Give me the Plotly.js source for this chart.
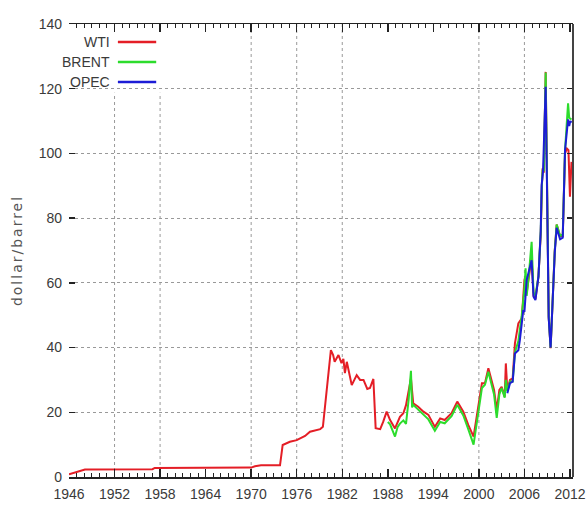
<!DOCTYPE html>
<html>
<head>
<meta charset="utf-8">
<script src="https://cdn.plot.ly/plotly-3.0.1.min.js"></script>
<style>
  html, body { margin: 0; padding: 0; background: #fff; }
  #chart { width: 588px; height: 507px; }
  .ytitle { letter-spacing: 2px; }
</style>
</head>
<body>
<div id="chart"></div>
<script>
// ---- data ----
const wtiYears = [1946.0, 1946.6, 1947.3, 1948.1, 1957.0, 1957.3, 1970.0, 1970.5, 1971.3, 1973.8,
  1974.15, 1975.1, 1976.0, 1977.1, 1977.75, 1979.1, 1979.45, 1980.5, 1980.8, 1981.0, 1981.5,
  1981.9, 1982.15, 1982.35, 1982.6, 1983.25, 1983.9, 1984.35, 1984.8, 1985.3, 1985.65, 1986.1,
  1986.4, 1987.0, 1987.4, 1987.85, 1988.3, 1988.95, 1989.6, 1990.05, 1990.4, 1991.05, 1991.35,
  1992.0, 1992.7, 1993.35, 1994.2, 1994.9, 1995.5, 1996.4, 1997.15, 1997.95, 1998.6, 1999.3,
  2000.4, 2000.8, 2001.25, 2001.7, 2002.0, 2002.35, 2002.7, 2003.0, 2003.4, 2003.55, 2003.75,
  2004.1, 2004.45, 2004.75, 2005.2, 2005.65, 2006.0, 2006.15, 2006.3, 2006.6, 2006.95, 2007.2,
  2007.45, 2007.85, 2008.15, 2008.3, 2008.4, 2008.55, 2008.8, 2009.2, 2009.45, 2010.0, 2010.25,
  2010.7, 2011.05, 2011.35, 2011.6, 2011.8, 2011.9, 2012.0, 2012.2];
const wtiPrice = [0.8, 1.2, 1.8, 2.3, 2.4, 2.8, 2.9, 3.3, 3.6, 3.6,
  9.9, 10.9, 11.4, 12.7, 14.0, 14.8, 15.5, 39.2, 37.7, 35.6, 37.7,
  35.2, 36.5, 32.1, 35.6, 28.4, 31.5, 30.0, 30.0, 27.2, 27.5, 30.3,
  15.1, 14.8, 17.1, 20.2, 17.6, 15.0, 18.6, 19.7, 22.2, 30.5, 22.8,
  21.7, 20.2, 19.2, 15.5, 18.1, 17.6, 19.7, 23.3, 20.2, 16.1, 12.5,
  29.0, 29.0, 33.6, 29.5, 26.9, 20.7, 26.9, 27.9, 24.8, 35.1, 26.9,
  30.0, 30.5, 41.3, 47.5, 49.0, 60.9, 62.0, 56.8, 62.0, 68.0, 56.0,
  55.0, 62.0, 75.0, 90.0, 95.4, 94.0, 125.2, 49.5, 39.8, 70.0, 78.0,
  74.5, 74.5, 100.0, 101.5, 101.0, 92.0, 86.6, 97.4];

const brentYears = [1988.0, 1988.3, 1988.95, 1989.3, 1989.6, 1990.05, 1990.4, 1990.75, 1991.05, 1991.2,
  1991.35, 1992.0, 1992.7, 1993.35, 1994.2, 1994.9, 1995.5, 1996.4, 1997.15, 1997.95, 1998.6,
  1999.3, 2000.4, 2000.8, 2001.25, 2001.7, 2002.0, 2002.35, 2002.7, 2003.0, 2003.4, 2003.55,
  2003.75, 2004.1, 2004.45, 2004.75, 2005.2, 2005.65, 2006.0, 2006.15, 2006.3, 2006.6, 2006.95,
  2007.2, 2007.45, 2007.85, 2008.15, 2008.3, 2008.4, 2008.55, 2008.8, 2009.2, 2009.45, 2010.0,
  2010.25, 2010.7, 2011.05, 2011.35, 2011.75, 2011.9, 2012.2];
const brentPrice = [17.0, 16.3, 12.5, 15.5, 16.5, 17.5, 16.4, 24.0, 32.8, 21.5,
  22.3, 20.8, 19.2, 17.8, 14.3, 17.0, 16.6, 18.8, 22.3, 19.0, 14.8,
  10.0, 27.5, 28.5, 32.5, 28.5, 25.5, 18.3, 25.5, 27.5, 24.5, 30.0,
  26.5, 29.5, 29.5, 38.5, 42.0, 50.0, 58.0, 64.5, 56.0, 63.0, 72.7,
  57.0, 56.0, 62.0, 76.0, 90.0, 95.0, 94.5, 125.0, 49.5, 40.0, 70.0,
  78.0, 74.5, 75.0, 101.0, 115.5, 111.0, 110.5];

const opecYears = [2003.75, 2004.1, 2004.45, 2004.75, 2005.2, 2005.4, 2005.85, 2006.0, 2006.3, 2006.6,
  2006.95, 2007.2, 2007.45, 2007.85, 2008.15, 2008.27, 2008.45, 2008.8, 2009.2, 2009.45,
  2010.0, 2010.25, 2010.7, 2011.05, 2011.35, 2011.75, 2011.9, 2012.05, 2012.2];
const opecPrice = [25.9, 29.0, 29.5, 38.2, 39.2, 42.3, 51.6, 51.0, 60.9, 64.0,
  67.0, 55.7, 54.7, 61.9, 76.0, 90.2, 94.5, 120.6, 49.0, 40.0,
  69.5, 77.0, 73.5, 74.0, 101.0, 110.5, 108.5, 110.0, 109.5];

const seriesNames = ['WTI', 'BRENT', 'OPEC'];
const seriesColors = ['#e41e26', '#2cdc2c', '#1c1cd6'];

const tickYears = [1946, 1952, 1958, 1964, 1970, 1976, 1982, 1988, 1994, 2000, 2006, 2012];
const tickLabels = ['1946', '1952', '1958', '1964', '1970', '1976', '1982', '1988', '1994', '2000', '2006', '2012'];
const gridYears = [1952, 1958, 1970, 1976, 1982, 2000, 2006];
const yTicks = [0, 20, 40, 60, 80, 100, 120, 140];

// ---- traces ----
const xs = [wtiYears, brentYears, opecYears];
const ys = [wtiPrice, brentPrice, opecPrice];
const traces = seriesNames.map((n, i) => ({
  type: 'scatter', mode: 'lines', name: n,
  x: xs[i], y: ys[i],
  line: { color: seriesColors[i], width: 2 },
  showlegend: false, hoverinfo: 'skip'
}));

const tickFont = { family: '"Liberation Sans", Arial, sans-serif', size: 14, color: '#3a3a3a' };
const xRange = [1946, 2012.4];
const yRange = [0, 140];

// vertical dotted grid lines (only where the reference shows them)
const gridShapes = gridYears.map(yr => ({
  type: 'line', xref: 'x', yref: 'paper', x0: yr, x1: yr, y0: 0, y1: 1,
  line: { color: '#999', width: 1, dash: 'dot' }, layer: 'between'
}));

// right-hand frame line
const frameShapes = [
  { type: 'line', xref: 'paper', yref: 'paper', x0: 1, x1: 1, y0: 0, y1: 1,
    line: { color: '#444', width: 2 }, layer: 'above' }
];

// legend drawn gnuplot style (text left, sample right)
const legY = [0.960, 0.916, 0.872];
const annotations = seriesNames.map((n, i) => ({
  xref: 'paper', yref: 'paper', x: 0.085, y: legY[i], xanchor: 'right', yanchor: 'middle',
  text: n, showarrow: false, font: tickFont
}));
const shapes = gridShapes.concat([
  { type: 'rect', xref: 'paper', yref: 'paper', x0: 0.002, x1: 0.185, y0: 0.848, y1: 0.99,
    fillcolor: '#fff', line: { width: 0 }, layer: 'between' }
]).concat(frameShapes).concat(seriesNames.map((n, i) => ({
  type: 'line', xref: 'paper', yref: 'paper', x0: 0.097, x1: 0.173, y0: legY[i], y1: legY[i],
  line: { color: seriesColors[i], width: 2.5 }
})));

const layout = {
  width: 588, height: 507,
  margin: { l: 69, r: 15, t: 24, b: 30 },
  paper_bgcolor: '#fff', plot_bgcolor: '#fff',
  showlegend: false,
  xaxis: {
    range: xRange, tickmode: 'array', tickvals: tickYears, ticktext: tickLabels,
    ticks: 'inside', ticklen: 8, tickwidth: 1.5, tickcolor: '#222',
    showline: true, linecolor: '#222', linewidth: 1.5, mirror: 'ticks',
    showgrid: false, zeroline: false, tickfont: tickFont, ticklabelstandoff: 4,
    minor: { tickmode: 'linear', tick0: 1946, dtick: 1, ticks: 'inside', ticklen: 4, tickwidth: 1, tickcolor: '#222', showgrid: false }
  },
  yaxis: {
    range: yRange, tickmode: 'array', tickvals: yTicks,
    ticks: 'inside', ticklen: 6, tickwidth: 1.5, tickcolor: '#222',
    showline: false, mirror: 'ticks', zeroline: false,
    showgrid: true, griddash: 'dot', gridcolor: '#999', gridwidth: 1,
    tickfont: tickFont, ticklabelstandoff: 6,
    title: { text: 'dollar/barrel', standoff: 12, font: { family: '"DejaVu Sans", sans-serif', size: 14, color: '#555' } }
  },
  annotations: annotations,
  shapes: shapes
};

Plotly.newPlot('chart', traces, layout, { staticPlot: true, displayModeBar: false });
</script>
</body>
</html>
